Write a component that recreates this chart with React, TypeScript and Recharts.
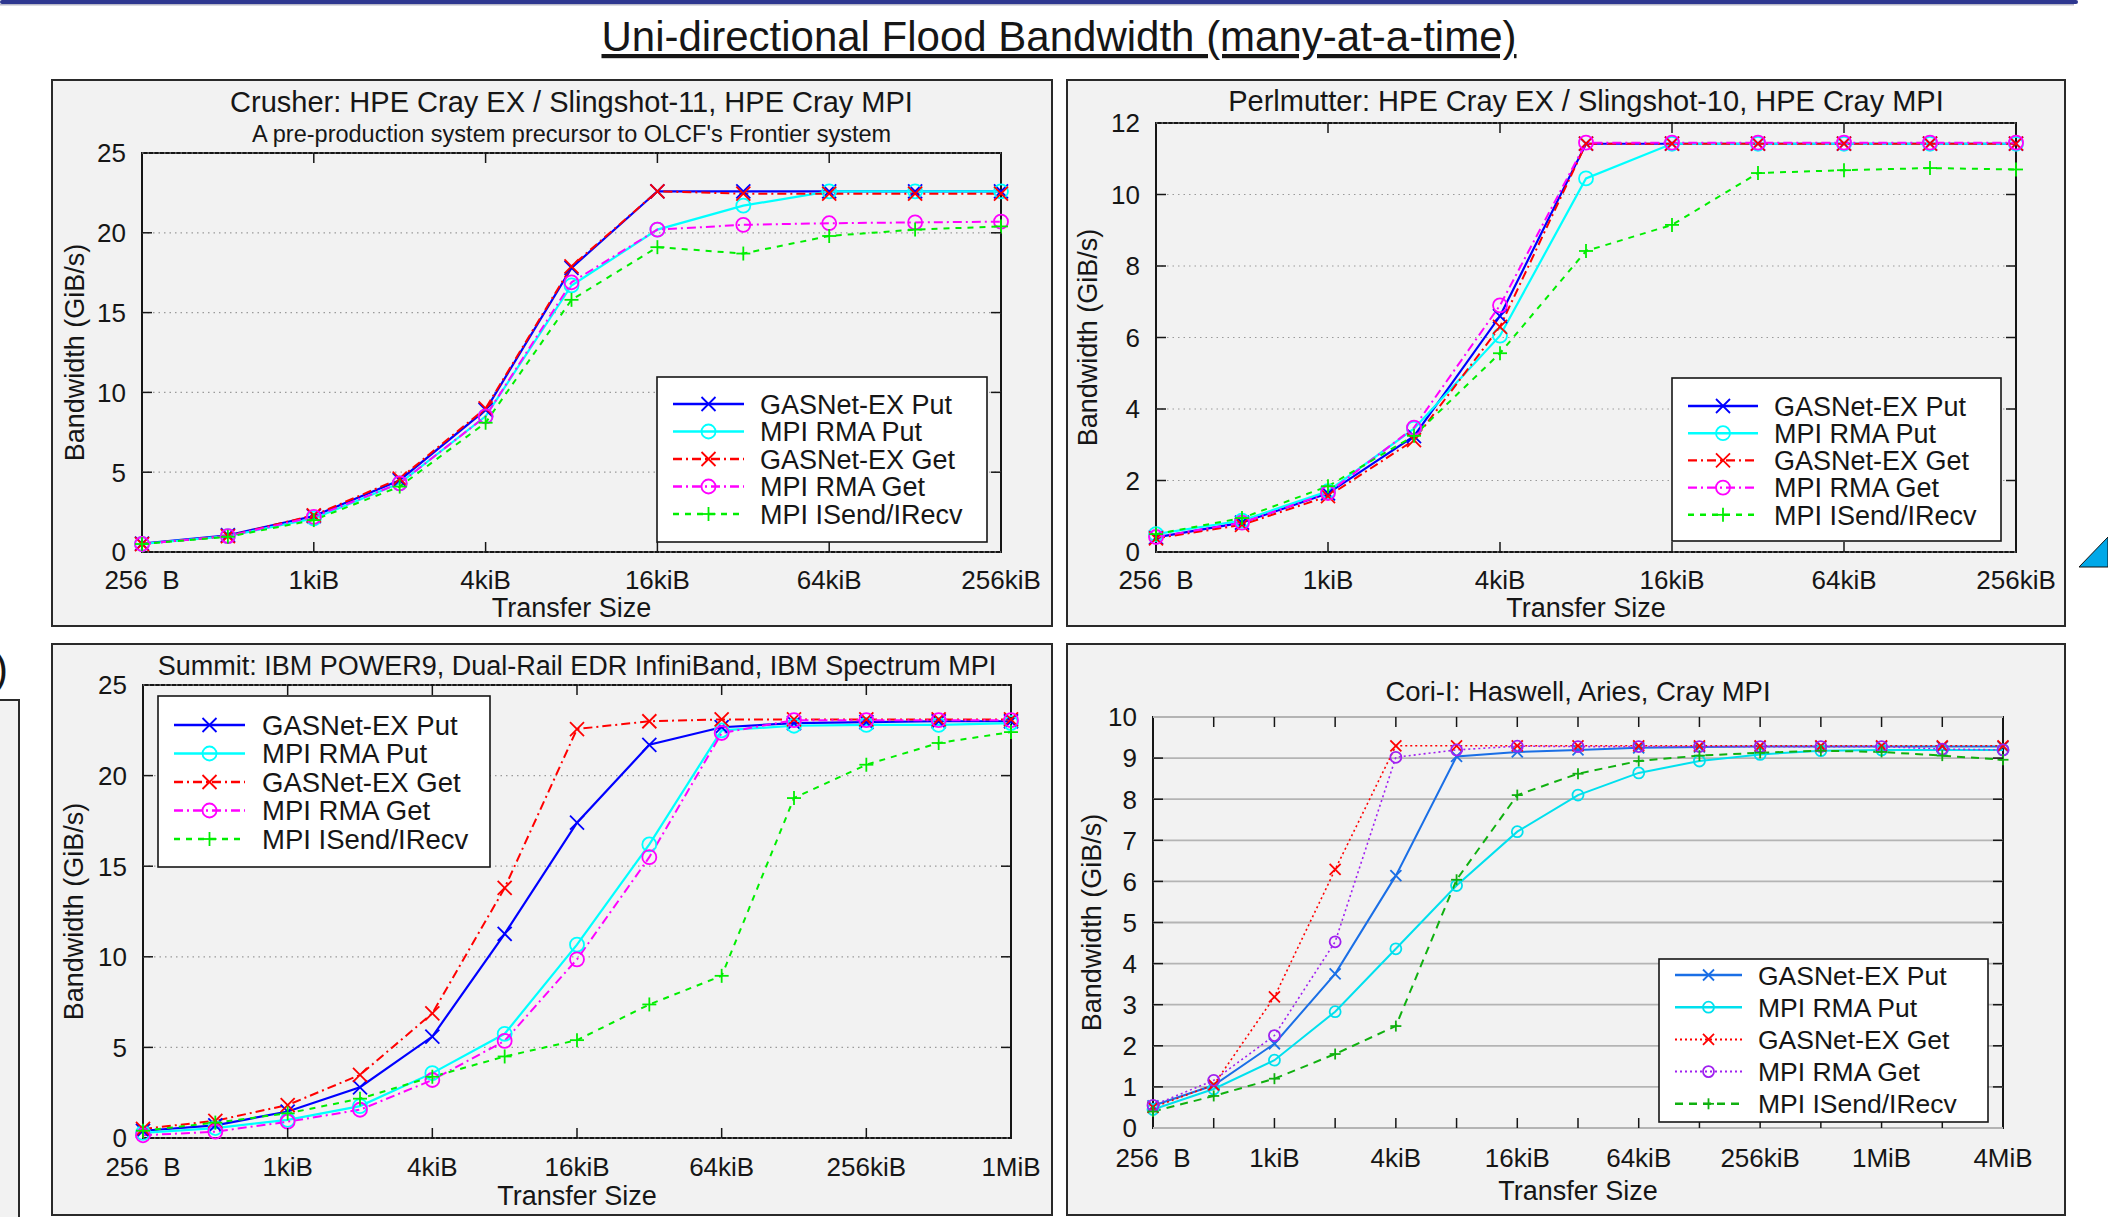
import React from "react";
import { CartesianGrid, Line, LineChart, XAxis, YAxis } from "recharts";

const FONT = "'Liberation Sans', Arial, Helvetica, sans-serif";
const INK = "#161616";

const SERIES_NAMES = [
  "GASNet-EX Put",
  "MPI RMA Put",
  "GASNet-EX Get",
  "MPI RMA Get",
  "MPI ISend/IRecv",
];

// transfer sizes in bytes
const SIZES_256K = [256, 512, 1024, 2048, 4096, 8192, 16384, 32768, 65536, 131072, 262144];
const SIZES_1M = [256, 512, 1024, 2048, 4096, 8192, 16384, 32768, 65536, 131072, 262144, 524288, 1048576];
const SIZES_4M = [
  256, 512, 1024, 2048, 4096, 8192, 16384, 32768, 65536, 131072, 262144, 524288, 1048576, 2097152,
  4194304,
];

const MAJOR_256K = [256, 1024, 4096, 16384, 65536, 262144];
const MAJOR_1M = [256, 1024, 4096, 16384, 65536, 262144, 1048576];
const MAJOR_4M = [256, 1024, 4096, 16384, 65536, 262144, 1048576, 4194304];

// Crusher (GiB/s)
const CRUSHER_GEX_PUT = [0.53, 1.05, 2.25, 4.5, 8.9, 17.8, 22.6, 22.6, 22.6, 22.6, 22.6];
const CRUSHER_RMA_PUT = [0.5, 1.0, 2.1, 4.3, 8.5, 16.7, 20.2, 21.7, 22.6, 22.6, 22.6];
const CRUSHER_GEX_GET = [0.5, 1.0, 2.3, 4.6, 9.0, 17.9, 22.6, 22.45, 22.45, 22.45, 22.45];
const CRUSHER_RMA_GET = [0.5, 1.0, 2.2, 4.3, 8.5, 16.9, 20.2, 20.5, 20.6, 20.65, 20.7];
const CRUSHER_ISEND = [0.5, 0.95, 2.0, 4.1, 8.1, 15.8, 19.1, 18.7, 19.8, 20.2, 20.4];

// Perlmutter
const PERL_GEX_PUT = [0.41, 0.82, 1.64, 3.24, 6.6, 11.42, 11.42, 11.42, 11.42, 11.42, 11.42];
const PERL_RMA_PUT = [0.5, 0.88, 1.7, 3.45, 6.05, 10.45, 11.42, 11.42, 11.42, 11.42, 11.42];
const PERL_GEX_GET = [0.38, 0.76, 1.56, 3.13, 6.3, 11.42, 11.42, 11.42, 11.42, 11.42, 11.42];
const PERL_RMA_GET = [0.42, 0.82, 1.65, 3.48, 6.9, 11.45, 11.45, 11.45, 11.45, 11.45, 11.45];
const PERL_ISEND = [0.5, 0.95, 1.84, 3.25, 5.56, 8.42, 9.15, 10.6, 10.68, 10.74, 10.7];

// Summit
const SUMMIT_GEX_PUT = [0.4, 0.7, 1.46, 2.8, 5.6, 11.27, 17.4, 21.7, 22.67, 22.9, 22.95, 23.0, 23.0];
const SUMMIT_RMA_PUT = [0.28, 0.55, 1.0, 1.76, 3.58, 5.75, 10.67, 16.2, 22.5, 22.75, 22.8, 22.8, 22.9];
const SUMMIT_GEX_GET = [0.5, 0.95, 1.82, 3.48, 6.88, 13.8, 22.57, 23.0, 23.1, 23.1, 23.1, 23.1, 23.1];
const SUMMIT_RMA_GET = [0.15, 0.35, 0.9, 1.56, 3.2, 5.36, 9.86, 15.5, 22.35, 23.06, 23.06, 23.06, 23.06];
const SUMMIT_ISEND = [0.4, 0.85, 1.36, 2.17, 3.38, 4.5, 5.4, 7.37, 8.95, 18.76, 20.6, 21.8, 22.4];

// Cori-I
const CORI_GEX_PUT = [0.54, 1.04, 2.05, 3.75, 6.14, 9.04, 9.15, 9.2, 9.25, 9.27, 9.28, 9.28, 9.28, 9.28, 9.28];
const CORI_RMA_PUT = [0.45, 0.95, 1.65, 2.83, 4.36, 5.9, 7.21, 8.1, 8.64, 8.93, 9.09, 9.18, 9.2, 9.2, 9.2];
const CORI_GEX_GET = [0.5, 1.05, 3.19, 6.29, 9.3, 9.3, 9.3, 9.3, 9.3, 9.3, 9.3, 9.3, 9.3, 9.3, 9.3];
const CORI_RMA_GET = [0.55, 1.16, 2.25, 4.53, 9.02, 9.2, 9.29, 9.28, 9.28, 9.28, 9.28, 9.28, 9.28, 9.22, 9.2];
const CORI_ISEND = [0.4, 0.78, 1.2, 1.8, 2.48, 6.04, 8.1, 8.62, 8.93, 9.06, 9.13, 9.18, 9.15, 9.06, 8.96];

const Y_TICKS_25 = [0, 5, 10, 15, 20, 25];
const Y_TICKS_12 = [0, 2, 4, 6, 8, 10, 12];
const Y_TICKS_10 = [0, 1, 2, 3, 4, 5, 6, 7, 8, 9, 10];

type MarkerKind = "x" | "o" | "+";
type SeriesStyle = { color: string; width: number; dash?: string; marker: MarkerKind };

const STYLES_GNU: SeriesStyle[] = [
  { color: "#0000ff", width: 2.2, marker: "x" },
  { color: "#00ffff", width: 2.2, marker: "o" },
  { color: "#ff0000", width: 2, dash: "9 4 2 4", marker: "x" },
  { color: "#ff00ff", width: 2, dash: "9 4 2 4", marker: "o" },
  { color: "#00ee00", width: 2, dash: "6 6", marker: "+" },
]

const STYLES_CORI: SeriesStyle[] = [
  { color: "#1a6fe6", width: 2, marker: "x" },
  { color: "#00e0ee", width: 2, marker: "o" },
  { color: "#ff0000", width: 1.6, dash: "2 3", marker: "x" },
  { color: "#a020f0", width: 1.6, dash: "2 3", marker: "o" },
  { color: "#10b010", width: 2, dash: "8 6", marker: "+" },
]

type Rect = { x: number; y: number; w: number; h: number };

type PanelCfg = {
  box: Rect;
  plot: Rect;
  titles: { text: string; y: number; size: number }[];
  sizes: number[];
  major: number[];
  minor: boolean;
  values: number[][];
  styles: SeriesStyle[];
  yMax: number;
  yTicks: number[];
  grid: { color: string; dash?: string; width: number };
  markerSize: number;
  ylabelX: number;
  tickBase: number;
  xlabelBase: number;
  legend: { x: number; y: number; w: number; h: number; row0: number; step: number; line0: number; line1: number; textX: number; font: number };
};

const PANELS: PanelCfg[] = [
  {
    box: { x: 51, y: 79, w: 1002, h: 548 },
    plot: { x: 142, y: 153, w: 859, h: 399 },
    titles: [
      { text: "Crusher: HPE Cray EX / Slingshot-11, HPE Cray MPI", y: 112, size: 29 },
      { text: "A pre-production system precursor to OLCF's Frontier system", y: 142, size: 23.5 },
    ],
    sizes: SIZES_256K,
    major: MAJOR_256K,
    minor: false,
    values: [CRUSHER_GEX_PUT, CRUSHER_RMA_PUT, CRUSHER_GEX_GET, CRUSHER_RMA_GET, CRUSHER_ISEND],
    styles: STYLES_GNU,
    yMax: 25,
    yTicks: Y_TICKS_25,
    grid: { color: "#9a9a9a", dash: "1.5 4", width: 1.2 },
    markerSize: 7,
    ylabelX: 75,
    tickBase: 37,
    xlabelBase: 65,
    legend: { x: 657, y: 377, w: 330, h: 165, row0: 404, step: 27.5, line0: 673, line1: 744, textX: 760, font: 27 },
  },
  {
    box: { x: 1066, y: 79, w: 1000, h: 548 },
    plot: { x: 1156, y: 123, w: 860, h: 429 },
    titles: [{ text: "Perlmutter: HPE Cray EX / Slingshot-10, HPE Cray MPI", y: 111, size: 29 }],
    sizes: SIZES_256K,
    major: MAJOR_256K,
    minor: false,
    values: [PERL_GEX_PUT, PERL_RMA_PUT, PERL_GEX_GET, PERL_RMA_GET, PERL_ISEND],
    styles: STYLES_GNU,
    yMax: 12,
    yTicks: Y_TICKS_12,
    grid: { color: "#9a9a9a", dash: "1.5 4", width: 1.2 },
    markerSize: 7,
    ylabelX: 1088,
    tickBase: 37,
    xlabelBase: 65,
    legend: { x: 1672, y: 378, w: 329, h: 163, row0: 406, step: 27.2, line0: 1688, line1: 1758, textX: 1774, font: 27 },
  },
  {
    box: { x: 51, y: 643, w: 1002, h: 573 },
    plot: { x: 143, y: 685, w: 868, h: 453 },
    titles: [{ text: "Summit: IBM POWER9, Dual-Rail EDR InfiniBand, IBM Spectrum MPI", y: 675, size: 27 }],
    sizes: SIZES_1M,
    major: MAJOR_1M,
    minor: false,
    values: [SUMMIT_GEX_PUT, SUMMIT_RMA_PUT, SUMMIT_GEX_GET, SUMMIT_RMA_GET, SUMMIT_ISEND],
    styles: STYLES_GNU,
    yMax: 25,
    yTicks: Y_TICKS_25,
    grid: { color: "#9a9a9a", dash: "1.5 4", width: 1.2 },
    markerSize: 7,
    ylabelX: 74,
    tickBase: 38,
    xlabelBase: 67,
    legend: { x: 158, y: 696, w: 332, h: 171, row0: 725, step: 28.5, line0: 174, line1: 245, textX: 262, font: 27.5 },
  },
  {
    box: { x: 1066, y: 643, w: 1000, h: 573 },
    plot: { x: 1153, y: 717, w: 850, h: 411 },
    titles: [{ text: "Cori-I: Haswell, Aries, Cray MPI", y: 701, size: 27.5 }],
    sizes: SIZES_4M,
    major: MAJOR_4M,
    minor: true,
    values: [CORI_GEX_PUT, CORI_RMA_PUT, CORI_GEX_GET, CORI_RMA_GET, CORI_ISEND],
    styles: STYLES_CORI,
    yMax: 10,
    yTicks: Y_TICKS_10,
    grid: { color: "#b4b4b4", width: 1.8 },
    markerSize: 5.5,
    ylabelX: 1092,
    tickBase: 39,
    xlabelBase: 72,
    legend: { x: 1659, y: 959, w: 329, h: 163, row0: 975, step: 32.2, line0: 1675, line1: 1742, textX: 1758, font: 26.5 },
  },
];

// room around the plot area inside each chart's svg
const YW = 100;
const XH = 60;
const MT = 30;
const MR = 60;

function fmtSize(b: number): string {
  if (b < 1024) return `${b}\u00a0\u00a0B`;
  if (b < 1048576) return `${b / 1024}kiB`;
  return `${b / 1048576}MiB`;
}

function Marker({ kind, cx, cy, s, color }: { kind: MarkerKind; cx: number; cy: number; s: number; color: string }) {
  if (kind === "o") {
    return <circle cx={cx} cy={cy} r={s} fill="none" stroke={color} strokeWidth={1.8} />;
  }
  if (kind === "+") {
    return (
      <g stroke={color} strokeWidth={1.8}>
        <line x1={cx - s} x2={cx + s} y1={cy} y2={cy} />
        <line x1={cx} x2={cx} y1={cy - s} y2={cy + s} />
      </g>
    );
  }
  return (
    <g stroke={color} strokeWidth={1.8}>
      <line x1={cx - s} x2={cx + s} y1={cy - s} y2={cy + s} />
      <line x1={cx - s} x2={cx + s} y1={cy + s} y2={cy - s} />
    </g>
  );
}

function Panel({ cfg }: { cfg: PanelCfg }) {
  const { plot, sizes } = cfg;
  const rows = sizes.map((s, i) => {
    const r: Record<string, number> = { size: s };
    cfg.values.forEach((v, k) => {
      r["s" + k] = v[i];
    });
    return r;
  });
  const W = plot.w + YW + MR;
  const H = plot.h + MT + XH;
  const top = MT;
  const bottom = MT + plot.h;
  const left = YW;
  const right = YW + plot.w;
  const first = sizes[0];
  const last = sizes[sizes.length - 1];
  const xTicks = cfg.minor ? sizes : cfg.major;

  const xTick = (p: any) => {
    const v = p.payload.value;
    const x = p.x;
    const edge = v === first || v === last;
    const labeled = cfg.major.includes(v);
    return (
      <g>
        {!edge && <line x1={x} x2={x} y1={bottom} y2={bottom - 10} stroke={INK} strokeWidth={1.5} />}
        {!edge && <line x1={x} x2={x} y1={top} y2={top + 10} stroke={INK} strokeWidth={1.5} />}
        {labeled && (
          <text x={x} y={bottom + cfg.tickBase} textAnchor="middle" fontSize={26} fontFamily={FONT} fill={INK}>
            {fmtSize(v)}
          </text>
        )}
      </g>
    );
  };

  const yTick = (p: any) => {
    const v = p.payload.value;
    const y = p.y;
    const edge = v === 0 || v === cfg.yMax;
    return (
      <g>
        {!edge && <line x1={left} x2={left + 10} y1={y} y2={y} stroke={INK} strokeWidth={1.5} />}
        {!edge && <line x1={right - 10} x2={right} y1={y} y2={y} stroke={INK} strokeWidth={1.5} />}
        <text x={left - 16} y={y} dy="0.36em" textAnchor="end" fontSize={26} fontFamily={FONT} fill={INK}>
          {v}
        </text>
      </g>
    );
  };

  return (
    <>
      <div
        style={{
          position: "absolute",
          left: plot.x - 1,
          top: plot.y - 1,
          width: plot.w + 2,
          height: plot.h + 2,
          border: `2px solid ${INK}`,
          boxSizing: "border-box",
        }}
      />
      <div style={{ position: "absolute", left: plot.x - YW, top: plot.y - MT, width: W, height: H }}>
        <LineChart width={W} height={H} data={rows} margin={{ top: MT, right: MR, left: 0, bottom: 0 }}>
          <CartesianGrid
            vertical={false}
            stroke={cfg.grid.color}
            strokeDasharray={cfg.grid.dash}
            strokeWidth={cfg.grid.width}
          />
          <XAxis
            dataKey="size"
            type="number"
            scale="log"
            domain={[first, last]}
            ticks={xTicks}
            interval={0}
            height={XH}
            axisLine={false}
            tickLine={false}
            tick={xTick}
          />
          <YAxis
            type="number"
            domain={[0, cfg.yMax]}
            ticks={cfg.yTicks}
            interval={0}
            width={YW}
            axisLine={false}
            tickLine={false}
            tick={yTick}
          />
          {cfg.styles.map((st, k) => (
            <Line
              key={k}
              dataKey={"s" + k}
              type="linear"
              stroke={st.color}
              strokeWidth={st.width}
              strokeDasharray={st.dash}
              isAnimationActive={false}
              dot={(p: any) => (
                <Marker key={`m${k}-${p.index}`} kind={st.marker} cx={p.cx} cy={p.cy} s={cfg.markerSize} color={st.color} />
              )}
              activeDot={false}
            />
          ))}
        </LineChart>
      </div>
    </>
  );
}

function PanelText({ cfg }: { cfg: PanelCfg }) {
  const { plot, legend: lg } = cfg;
  const cx = plot.x + plot.w / 2;
  const cy = plot.y + plot.h / 2;
  return (
    <g fontFamily={FONT} fill={INK}>
      {cfg.titles.map((t) => (
        <text key={t.text} x={cx} y={t.y} textAnchor="middle" fontSize={t.size}>
          {t.text}
        </text>
      ))}
      <text
        x={cfg.ylabelX}
        y={cy}
        textAnchor="middle"
        dominantBaseline="central"
        fontSize={27}
        transform={`rotate(-90 ${cfg.ylabelX} ${cy})`}
      >
        Bandwidth (GiB/s)
      </text>
      <text x={cx} y={plot.y + plot.h + cfg.xlabelBase} textAnchor="middle" fontSize={27}>
        Transfer Size
      </text>
      <rect x={lg.x} y={lg.y} width={lg.w} height={lg.h} fill="#ffffff" stroke={INK} strokeWidth={1.6} />
      {SERIES_NAMES.map((name, i) => {
        const st = cfg.styles[i];
        const ry = lg.row0 + i * lg.step;
        return (
          <g key={name}>
            <line
              x1={lg.line0}
              x2={lg.line1}
              y1={ry}
              y2={ry}
              stroke={st.color}
              strokeWidth={st.width + 0.4}
              strokeDasharray={st.dash}
            />
            <Marker kind={st.marker} cx={(lg.line0 + lg.line1) / 2} cy={ry} s={cfg.markerSize} color={st.color} />
            <text x={lg.textX} y={ry} dy="0.36em" fontSize={lg.font} fill={INK}>
              {name}
            </text>
          </g>
        );
      })}
    </g>
  );
}

export default function App() {
  return (
    <div
      style={{
        position: "absolute",
        left: 0,
        top: 0,
        width: 2108,
        height: 1217,
        background: "#ffffff",
        overflow: "hidden",
        fontFamily: FONT,
      }}
    >
      {PANELS.map((p, i) => (
        <div
          key={"box" + i}
          style={{
            position: "absolute",
            left: p.box.x,
            top: p.box.y,
            width: p.box.w,
            height: p.box.h,
            background: "#f2f2f2",
            border: "2px solid #2a2a2a",
            boxSizing: "border-box",
          }}
        />
      ))}
      <div
        style={{
          position: "absolute",
          left: -2,
          top: 699,
          width: 22,
          height: 540,
          background: "#f2f2f2",
          border: "2px solid #2a2a2a",
          boxSizing: "border-box",
        }}
      />
      {PANELS.map((p, i) => (
        <Panel key={"panel" + i} cfg={p} />
      ))}
      <svg
        width={2108}
        height={1217}
        style={{ position: "absolute", left: 0, top: 0, pointerEvents: "none" }}
      >
        <rect x={0} y={0} width={2078} height={4} rx={2} fill="#2e3790" />
        <rect x={0} y={4} width={2074} height={1.5} fill="#b8b8c8" />
        <text
          x={1059}
          y={51}
          textAnchor="middle"
          fontSize={42}
          fontFamily={FONT}
          fill={INK}
          style={{ textDecoration: "underline" }}
        >
          Uni-directional Flood Bandwidth (many-at-a-time)
        </text>
        <text x={-6} y={683} fontSize={42} fontFamily={FONT} fill={INK}>
          )
        </text>
        <polygon points="2079,567 2108,537 2108,567" fill="#00a8e8" stroke="#111" strokeWidth={1} />
        {PANELS.map((p, i) => (
          <PanelText key={"txt" + i} cfg={p} />
        ))}
      </svg>
    </div>
  );
}
